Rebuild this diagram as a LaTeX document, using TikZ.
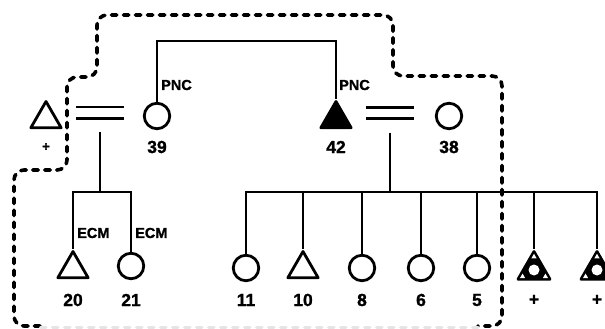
\documentclass[tikz,border=0pt]{standalone}
\usepackage{fontspec}
\setmainfont{Liberation Sans}[BoldFeatures={FakeBold=1.2}]
\usetikzlibrary{shapes.geometric,calc}
\newcommand\numfont{\fontsize{17.5}{17.5}\selectfont\bfseries}
\newcommand\tagfont{\fontsize{14.5}{14.5}\selectfont\bfseries}
\tikzset{
  wire/.style={line width=2.6pt},
  circ/.style={circle, draw, line width=2.8pt, minimum size=25.5pt, inner sep=0pt},
  tri/.style={regular polygon, regular polygon sides=3, draw, line width=2.8pt,
              line join=round, minimum size=35pt, inner sep=0pt},
  tridark/.style={tri, fill=black},
  ringtri/.style={tri, fill=black, minimum size=37pt},
  hole/.style={circle, fill=white, minimum size=11pt, inner sep=0pt},
  notch/.style={regular polygon, regular polygon sides=3, fill=white,
                minimum size=6pt, inner sep=0pt},
  num/.style={font=\numfont, inner sep=0pt},
  tag/.style={font=\tagfont, anchor=west, inner sep=0pt},
  eqsign/.style={minimum width=48pt, minimum height=11pt, inner sep=0pt},
  border/.style={line width=3.6pt, dash pattern=on 5.5pt off 6.5pt, line cap=round,
                 rounded corners=10pt}
}
\begin{document}
\begin{tikzpicture}[x=1pt,y=-1pt]
\useasboundingbox (0,0) rectangle (605,329);
\clip (0,0) rectangle (605,329);

% upper generation
\node[tri] (tl) at (46,119) {};
\node[num, font=\fontsize{13}{13}\selectfont\bfseries] (pl) at (46,147) {+};
\node[eqsign] (eql) at (100,112.5) {};
\node[circ] (c39) at (157,116) {};
\node[num] (l39) at (157,147) {39};
\node[tridark] (t42) at (336,119) {};
\node[num] (l42) at (336,147) {42};
\node[eqsign] (eqr) at (390,113) {};
\node[circ] (c38) at (449,116) {};
\node[num] (l38) at (449,147) {38};

\draw[wire] (eql.north west) -- (eql.north east) (eql.south west) -- (eql.south east);
\draw[wire] (eqr.north west) -- (eqr.north east) (eqr.south west) -- (eqr.south east);

\coordinate (pncbar) at (246,41);
\draw[wire] (c39.north) |- (pncbar) -| (t42.corner 1);
\node[tag] (pnc1) at (161,85) {PNC};
\node[tag] (pnc2) at (339,85) {PNC};

% children of the left couple
\node[tri] (t20) at (73,269) {};
\node[num] (l20) at (73,300) {20};
\node[circ] (c21) at (131,266) {};
\node[num] (l21) at (131,300) {21};
\coordinate (jl) at (100,192);
\draw[wire] ([yshift=-14pt]eql.south) -- (jl);
\draw[wire] (t20.corner 1) |- (jl) -| (c21.north);
\node[tag] (ecm1) at (77,233) {ECM};
\node[tag] (ecm2) at (135,233) {ECM};

% children of the right couple
\node[circ] (c11) at (246,268) {};
\node[num] (l11) at (246,300) {11};
\node[tri] (t10) at (303,269) {};
\node[num] (l10) at (303,300) {10};
\node[circ] (c8) at (362,268) {};
\node[num] (l8) at (362,300) {8};
\node[circ] (c6) at (421,268) {};
\node[num] (l6) at (421,300) {6};
\node[circ] (c5) at (477,268) {};
\node[num] (l5) at (477,300) {5};
\node[ringtri] (s1) at (534,270) {};
\node[num] (ls1) at (534,300) {+};
\node[ringtri] (s2) at (597,270) {};
\node[num] (ls2) at (597,300) {+};

\foreach \s in {s1,s2}{
  \node[hole] at (\s) {};
  \foreach \k in {1,2,3}
    \node[notch] at ($(\s)!0.62!(\s.corner \k)$) {};
}

\coordinate (jr) at (390,192);
\draw[wire] ([yshift=-14pt]eqr.south) -- (jr);
\draw[wire] (c11.north) |- (jr) -| (s2.corner 1);
\foreach \n/\a in {t10/corner 1, c8/north, c6/north, c5/north, s1/corner 1}
  \draw[wire] (\n.\a) -- (\n.\a |- jr);

% dashed boundary
\draw[border] (40,326) -- (14,326) -- (14,170) -- (67,170) -- (67,77) -- (97,77)
  -- (97,15) -- (393,15) -- (393,76) -- (502,76) -- (502,326) -- (478,326);
\draw[border, line width=3pt, draw=black!10] (478,327) -- (40,327);
\end{tikzpicture}
\end{document}
